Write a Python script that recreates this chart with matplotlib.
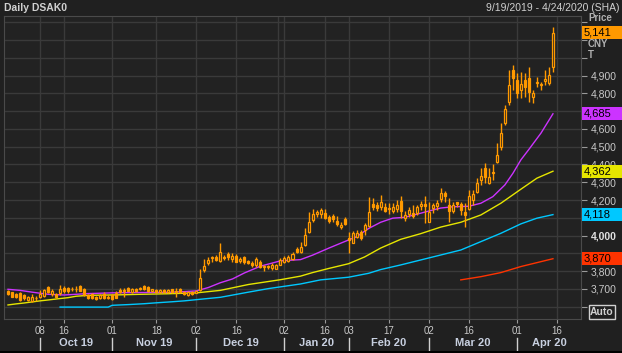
import numpy as np
import matplotlib.pyplot as plt
from matplotlib.patches import Rectangle
from matplotlib.transforms import blended_transform_factory, IdentityTransform

plt.rcParams['font.family'] = ['Liberation Sans', 'DejaVu Sans']

# daily candles, x = trading day index (0 = 2019-09-19 ... 136 = 2020-04-15)
opens = [3690, 3681, 3672, 3679, 3666, 3640, 3632, 3651, 3657, 3661,
         3709, 3670, 3672, 3676, 3707, 3704, 3702, 3700, 3715, 3698,
         3666, 3670, 3655, 3648, 3670, 3651, 3666, 3675, 3694, 3690,
         3704, 3685, 3702, 3697, 3717, 3709, 3688, 3696, 3685, 3694,
         3681, 3698, 3690, 3700, 3681, 3666, 3685, 3680, 3692, 3807,
         3848, 3874, 3882, 3859, 3878, 3897, 3867, 3886, 3856, 3878,
         3859, 3848, 3835, 3854, 3824, 3822, 3816, 3814, 3837, 3854,
         3859, 3871, 3923, 3910, 3947, 4022, 4088, 4122, 4120, 4129,
         4103, 4110, 4084, 4047, 4096, 3985, 3961, 3994, 4022, 4032,
         4054, 4178, 4172, 4163, 4159, 4154, 4141, 4150, 4197, 4098,
         4122, 4129, 4126, 4167, 4178, 4079, 4154, 4167, 4204, 4238,
         4172, 4141, 4191, 4178, 4135, 4148, 4201, 4248, 4313, 4379,
         4298, 4360, 4416, 4497, 4632, 4754, 4932, 4876, 4819, 4876,
         4885, 4778, 4857, 4846, 4870, 4860, 4950]
highs = [3695, 3685, 3676, 3683, 3670, 3663, 3670, 3662, 3696, 3700,
         3718, 3700, 3680, 3722, 3714, 3712, 3712, 3715, 3720, 3706,
         3672, 3676, 3660, 3672, 3681, 3664, 3670, 3688, 3704, 3704,
         3710, 3707, 3708, 3712, 3724, 3714, 3702, 3700, 3698, 3698,
         3698, 3702, 3704, 3706, 3686, 3686, 3690, 3694, 3815, 3867,
         3882, 3886, 3890, 3957, 3891, 3910, 3901, 3895, 3882, 3886,
         3865, 3856, 3882, 3860, 3833, 3835, 3844, 3840, 3872, 3886,
         3890, 3910, 3938, 3966, 4041, 4135, 4148, 4144, 4154, 4148,
         4114, 4122, 4110, 4079, 4107, 4022, 4028, 4030, 4030, 4069,
         4216, 4210, 4191, 4230, 4182, 4182, 4182, 4201, 4223, 4141,
         4163, 4172, 4172, 4195, 4223, 4191, 4182, 4201, 4266, 4253,
         4210, 4191, 4191, 4191, 4182, 4257, 4257, 4323, 4379, 4411,
         4379, 4403, 4519, 4632, 4735, 4932, 4960, 4913, 4922, 4913,
         4950, 4820, 4890, 4866, 4932, 4950, 5175]
lows = [3668, 3652, 3648, 3632, 3638, 3635, 3629, 3634, 3648, 3655,
        3680, 3660, 3650, 3666, 3680, 3676, 3690, 3681, 3686, 3660,
        3645, 3644, 3636, 3642, 3644, 3645, 3640, 3648, 3676, 3653,
        3686, 3680, 3684, 3692, 3694, 3684, 3684, 3680, 3680, 3676,
        3676, 3680, 3657, 3680, 3664, 3662, 3668, 3675, 3688, 3798,
        3835, 3854, 3858, 3854, 3860, 3863, 3854, 3850, 3845, 3841,
        3838, 3826, 3822, 3818, 3800, 3815, 3807, 3810, 3835, 3845,
        3852, 3863, 3901, 3904, 3942, 4013, 4077, 4103, 4098, 4092,
        4073, 4079, 4054, 4036, 4062, 3900, 3957, 3985, 3975, 4004,
        4050, 4144, 4140, 4144, 4135, 4122, 4126, 4135, 4098, 4084,
        4107, 4098, 4116, 4144, 4073, 4079, 4126, 4144, 4191, 4191,
        4079, 4126, 4163, 4116, 4047, 4144, 4172, 4238, 4285, 4294,
        4291, 4310, 4410, 4482, 4622, 4735, 4819, 4772, 4772, 4782,
        4754, 4748, 4838, 4819, 4847, 4847, 4922]
closes = [3672, 3657, 3653, 3638, 3651, 3657, 3655, 3649, 3670, 3694,
          3685, 3690, 3655, 3698, 3689, 3689, 3699, 3702, 3691, 3666,
          3651, 3648, 3642, 3666, 3648, 3657, 3644, 3651, 3681, 3696,
          3691, 3700, 3689, 3707, 3698, 3689, 3698, 3685, 3694, 3681,
          3694, 3685, 3681, 3685, 3670, 3681, 3672, 3689, 3762, 3829,
          3863, 3880, 3863, 3908, 3874, 3878, 3886, 3854, 3871, 3854,
          3844, 3833, 3867, 3822, 3828, 3829, 3835, 3837, 3863, 3876,
          3882, 3895, 3908, 3938, 4004, 4079, 4122, 4130, 4144, 4098,
          4084, 4092, 4066, 4062, 4066, 3975, 4013, 4017, 3985, 4060,
          4135, 4159, 4154, 4191, 4141, 4148, 4159, 4172, 4141, 4116,
          4144, 4111, 4159, 4180, 4167, 4135, 4172, 4182, 4242, 4223,
          4141, 4172, 4180, 4144, 4116, 4223, 4234, 4298, 4336, 4328,
          4328, 4350, 4453, 4579, 4711, 4847, 4885, 4804, 4851, 4834,
          4810, 4801, 4866, 4851, 4881, 4904, 5141]

# moving averages (day index, value)
ma1_x = [0, 3, 6, 10, 14, 20, 26, 33, 40, 44, 47, 50, 53, 56, 59, 63, 68, 73, 76,
         80, 83, 87, 90, 93, 96, 99, 102, 105, 108, 111, 115, 118, 121, 124, 126,
         128, 130, 133, 136]
ma1 = [3698, 3692, 3682, 3670, 3666, 3674, 3678, 3680, 3681, 3685, 3689, 3708, 3735,
       3756, 3790, 3828, 3858, 3865, 3890, 3929, 3957, 3994, 4040, 4075, 4098, 4103,
       4120, 4138, 4155, 4162, 4165, 4182, 4219, 4285, 4350, 4426, 4485, 4576, 4685]
ma2_x = [0, 2, 4, 6, 8, 10, 13, 15, 17, 20, 28, 33, 40, 47, 53, 60, 68, 73, 76, 80,
         85, 89, 93, 98, 103, 108, 113, 118, 123, 128, 132, 136]
ma2 = [3610, 3616, 3621, 3627, 3633, 3638, 3646, 3651, 3659, 3664, 3667, 3670, 3673,
       3678, 3692, 3725, 3752, 3772, 3792, 3815, 3842, 3880, 3930, 3979, 4011, 4048,
       4075, 4116, 4182, 4261, 4323, 4362]
ma3_x = [13, 25, 26, 30, 34, 37, 41, 44, 48, 53, 60, 65, 73, 78, 85, 90, 93, 98, 103,
         108, 113, 118, 123, 128, 132, 136]
ma3 = [3598, 3598, 3608, 3612, 3617, 3622, 3628, 3633, 3642, 3653, 3682, 3702, 3728,
       3751, 3766, 3788, 3809, 3835, 3863, 3891, 3919, 3966, 4013, 4066, 4098, 4118]
ma4_x = [113, 118, 123, 128, 132, 136]
ma4 = [3751, 3769, 3792, 3826, 3848, 3870]

day_ticks = [8, 14, 26, 37, 47, 57, 69, 79, 85, 95, 105, 115, 127, 137]
day_labels = ['08', '16', '01', '18', '02', '16', '02', '16', '03', '17', '02', '16', '01', '16']
month_starts = [8, 26, 47, 69, 85, 105, 127]
month_labels = ['Oct 19', 'Nov 19', 'Dec 19', 'Jan 20', 'Feb 20', 'Mar 20', 'Apr 20']
year_break = 67.5
x_end = 143

last_labels = [(5141, '#ff9900'), (4685, '#cc33ff'), (4362, '#e6e600'),
               (4118, '#00c8ff'), (3870, '#ff3300')]
# price levels whose axis label is hidden behind a value box
hidden_levels = (3600, 3900, 4100, 4700, 5000, 5100, 5200)

BG = '#202020'
AXBG = '#222222'
GRID = '#3a3a3a'
ORANGE = '#ff9900'
TXT = '#c8c8c8'

fig = plt.figure(figsize=(6.22, 3.53), dpi=100, facecolor=BG)
ax = fig.add_axes([4 / 622, 34 / 353, 577 / 622, 303 / 353], facecolor=AXBG)
ax.set_xlim(-1, x_end)
ax.set_ylim(3531, 5235)

# grid
for g in day_ticks + [year_break]:
    ax.axvline(g, color=GRID, lw=1, zorder=0)
ax.set_yticks(np.arange(3600, 5300, 100))
ax.grid(axis='y', color=GRID, lw=1, zorder=0)
ax.set_axisbelow(True)

# moving averages
ax.plot(ma2_x, ma2, color='#e6e600', lw=1, zorder=2)
ax.plot(ma3_x, ma3, color='#00c8ff', lw=1, zorder=2)
ax.plot(ma4_x, ma4, color='#ff3300', lw=1, zorder=2)
ax.plot(ma1_x, ma1, color='#cc33ff', lw=1, zorder=2)

# candles
o = np.array(opens); h = np.array(highs); l = np.array(lows); c = np.array(closes)
x = np.arange(len(o))
lo = np.minimum(o, c)
hi = np.maximum(o, c)
up = c >= o
ax.vlines(x, l, lo, color=ORANGE, lw=1, zorder=3)
ax.vlines(x, hi, h, color=ORANGE, lw=1, zorder=3)
ax.bar(x[up], hi[up] - lo[up], bottom=lo[up], width=0.5, facecolor=AXBG,
       edgecolor=ORANGE, lw=0.9, zorder=4)
ax.bar(x[~up], hi[~up] - lo[~up], bottom=lo[~up], width=0.5, facecolor=ORANGE,
       edgecolor=ORANGE, lw=0.9, zorder=4)

for s in ax.spines.values():
    s.set_color('#4a4a4a')

# right price axis
ax.yaxis.tick_right()
ylabels = []
for v in range(3600, 5300, 100):
    ylabels.append('' if v in hidden_levels else f'{v:,}')
ax.set_yticklabels(ylabels)
ax.tick_params(axis='y', length=4, pad=3, labelsize=7.5, colors='#9a9a9a', labelcolor=TXT)
for t in ax.get_yticklabels():
    if t.get_text() == '4,000':
        t.set_fontweight('bold')
        t.set_color('#e0e0e0')

# date axis
ax.set_xticks(day_ticks)
ax.set_xticklabels(day_labels)
ax.tick_params(axis='x', length=3, pad=2, labelsize=7, colors='#9a9a9a', labelcolor=TXT)
tr = blended_transform_factory(ax.transData, ax.transAxes)
bounds = month_starts + [x_end]
for i, lab in enumerate(month_labels):
    ax.plot([month_starts[i]] * 2, [-0.063, -0.102], transform=tr, color='#d0d0d0',
            lw=1, clip_on=False)
    mid = (bounds[i] + bounds[i + 1]) / 2
    ax.text(mid, -0.079, lab, transform=tr, ha='center', va='center', fontsize=8,
            fontweight='bold', color='#c8d0e0')

# header
fig.text(4 / 622, 1 - 8 / 353, 'Daily DSAK0', fontsize=7.5, fontweight='bold',
         color='#d0d0d0', va='center')
fig.text(619 / 622, 1 - 8 / 353, '9/19/2019 - 4/24/2020 (SHA)', fontsize=7.5,
         color='#d0d0d0', va='center', ha='right')

# unit labels
for txt, ypx in (('Price', 18), ('CNY', 44), ('T', 55)):
    fig.text(588 / 622, 1 - ypx / 353, txt, fontsize=7, fontweight='bold',
             color='#b0b0b0', va='center')

# last value boxes
fig.canvas.draw()
for val, col in last_labels:
    ypx = ax.transData.transform((0, val))[1]
    fig.add_artist(Rectangle((582, ypx - 6.5), 40, 13, transform=IdentityTransform(),
                             facecolor=col, edgecolor='none', zorder=5))
    fig.text(584 / 622, ypx / 353, f'{val:,}', fontsize=8, color='black',
             va='center', zorder=6)

fig.text(602 / 622, 1 - 312 / 353, 'Auto', fontsize=7.5, fontweight='bold',
         color='#d0d0d0', ha='center', va='center',
         bbox=dict(boxstyle='square,pad=0.15', fc='none', ec='#d0d0d0', lw=1))
fig.add_artist(Rectangle((0, 0), 1, 2 / 353, transform=fig.transFigure,
                         facecolor='black', edgecolor='none'))

fig.savefig('out.png', dpi=100, facecolor=BG)
